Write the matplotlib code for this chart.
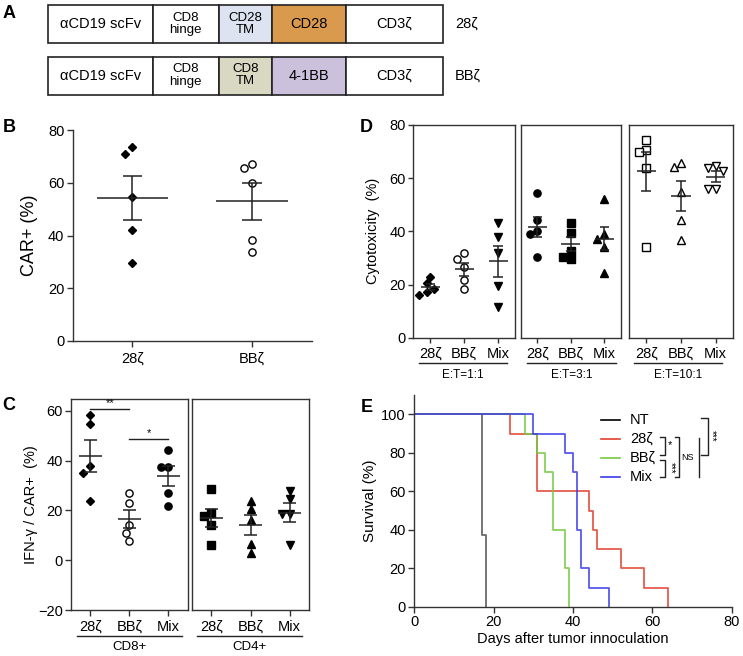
import numpy as np
import matplotlib
matplotlib.use('Agg')
import matplotlib.pyplot as plt
from matplotlib.patches import Rectangle

plt.rcParams['font.family'] = ['Liberation Sans', 'DejaVu Sans']
plt.rcParams['font.size'] = 10.5
plt.rcParams['axes.linewidth'] = 1.0
plt.rcParams['axes.edgecolor'] = '#333333'
plt.rcParams['xtick.color'] = '#333333'
plt.rcParams['ytick.color'] = '#333333'
plt.rcParams['xtick.labelcolor'] = 'black'
plt.rcParams['ytick.labelcolor'] = 'black'

W, H = 743, 656

# ---- data ----
# B: CAR+ (%)
b_groups = ['28ζ', 'BBζ']
b_28z = [73.4, 71.0, 54.5, 42.1, 29.5]
b_bbz = [67.0, 65.6, 60.0, 38.3, 33.9]

# D: cytotoxicity (%)
d_groups = ['28ζ', 'BBζ', 'Mix']
d_ratios = ['E:T=1:1', 'E:T=3:1', 'E:T=10:1']
d_1to1 = [[22.9, 20.4, 18.3, 17.3, 16.0],
          [32.0, 29.6, 26.7, 21.7, 18.3],
          [43.0, 38.0, 32.0, 19.4, 11.7]]
d_3to1 = [[54.3, 44.3, 40.1, 39.0, 30.5],
          [43.3, 39.5, 32.6, 30.5, 29.7],
          [52.0, 39.0, 37.1, 34.2, 24.2]]
d_10to1 = [[74.4, 70.6, 70.0, 63.7, 34.2],
           [65.6, 64.3, 54.9, 44.3, 36.7],
           [64.6, 64.0, 62.7, 55.8, 55.8]]

# C: IFN-g / CAR+ (%)
c_subsets = ['CD8+', 'CD4+']
c_cd8 = [[58.1, 54.8, 37.7, 35.2, 23.7],
         [26.8, 23.0, 14.0, 11.1, 7.8],
         [44.4, 37.6, 37.6, 27.0, 21.8]]
c_cd4 = [[28.6, 18.8, 17.6, 14.3, 6.0],
         [23.8, 20.5, 16.0, 6.7, 2.9],
         [27.7, 24.6, 18.7, 18.7, 5.9]]

# E: survival (%)
e_names = ['NT', '28ζ', 'BBζ', 'Mix']
e_colors = ['#505050', '#e2402f', '#74c93f', '#3b3bea']
nt_days = [0, 17, 18]
nt_surv = [100, 37.5, 0]
z28_days = [0, 24, 31, 44, 45, 46, 52, 58, 64]
z28_surv = [100, 90, 60, 50, 40, 30, 20, 10, 0]
bbz_days = [0, 28, 31, 33, 35, 38, 39]
bbz_surv = [100, 90, 80, 70, 40, 20, 0]
mix_days = [0, 30, 38, 40, 41, 42, 44, 49]
mix_surv = [100, 90, 80, 70, 40, 20, 10, 0]

marker_size = {'D': 4.0, 'o': 5.2, 's': 6.0, '^': 5.5, 'v': 5.5}


def rect(l, t, r, b):
    return [l / W, (H - b) / H, (r - l) / W, (b - t) / H]


def swarm(ax, x0, vals, diam=7.5):
    # simple beeswarm in pixel space so close points don't overlap
    pts = ax.transData.transform(np.column_stack([np.full(len(vals), x0), vals]))
    ux = ax.transData.transform([(x0 + 1, 0)])[0, 0] - ax.transData.transform([(x0, 0)])[0, 0]
    placed = []
    offs = np.zeros(len(vals))
    for i in np.argsort(-np.asarray(vals), kind='stable'):
        y = pts[i, 1]
        for k in [0, -1, 1, -2, 2, -3, 3, -4, 4]:
            dx = k * diam * 0.5
            if all((dx - px) ** 2 + (y - py) ** 2 >= diam ** 2 for px, py in placed):
                break
        placed.append((dx, y))
        offs[i] = dx / ux
    return offs


def dot_plot(ax, groups, markers, filled, mean_hw=0.28, cap_hw=0.15):
    for i, vals in enumerate(groups):
        x0 = i + 1
        offs = swarm(ax, x0, vals)
        ax.plot(x0 + offs, vals, ls='none', marker=markers[i],
                mfc='black' if filled[i] else 'white', mec='black',
                ms=marker_size[markers[i]], mew=1.0, zorder=3, clip_on=False)
        m = np.mean(vals)
        s = np.std(vals, ddof=1) / np.sqrt(len(vals))
        ax.hlines(m, x0 - mean_hw, x0 + mean_hw, color='#222222', lw=1.1, zorder=4)
        ax.hlines([m - s, m + s], x0 - cap_hw, x0 + cap_hw, color='#222222', lw=1.1, zorder=4)
        ax.vlines(x0, m - s, m + s, color='#222222', lw=1.1, zorder=4)


fig = plt.figure(figsize=(W / 100, H / 100), dpi=100)

# ---- B ----
axb = fig.add_axes(rect(72.7, 130, 311.7, 341))
axb.set_xlim(0.5, 2.5)
axb.set_ylim(0, 80)
axb.set_yticks([0, 20, 40, 60, 80])
axb.set_xticks([1, 2])
axb.set_xticklabels(b_groups)
for sp in ['top', 'right']:
    axb.spines[sp].set_visible(False)
axb.tick_params(length=4, width=1.0, pad=2)
axb.tick_params(axis='x', pad=4)
dot_plot(axb, [b_28z, b_bbz], ['D', 'o'], [True, False], mean_hw=0.3, cap_hw=0.08)
axb.set_ylabel('CAR+ (%)', fontsize=13)
axb.yaxis.set_label_coords((37.7 - 72.7) / 239, 0.5)

# ---- D ----
d_sets = [d_1to1, d_3to1, d_10to1]
d_marks = [['D', 'o', 'v'], ['o', 's', '^'], ['s', '^', 'v']]
d_fill = [[True, False, True], [True, True, True], [False, False, False]]
d_rects = [(413.3, 515), (520.7, 621), (629, 733)]
for j in range(3):
    ax = fig.add_axes(rect(d_rects[j][0], 125, d_rects[j][1], 337.7))
    ax.set_xlim(0.5, 3.5)
    ax.set_ylim(0, 80)
    ax.set_xticks([1, 2, 3])
    ax.set_xticklabels(d_groups)
    ax.tick_params(length=3.5, width=1.0, pad=2)
    ax.tick_params(axis='x', pad=3)
    if j == 0:
        ax.set_yticks([0, 20, 40, 60, 80])
        ax.set_ylabel('Cytotoxicity  (%)', fontsize=10.5)
        ax.yaxis.set_label_coords((380 - 413.3) / 101.7, 0.5)
    else:
        ax.set_yticks([])
    dot_plot(ax, d_sets[j], d_marks[j], d_fill[j], mean_hw=0.28, cap_hw=0.14)

# ---- C ----
c_sets = [c_cd8, c_cd4]
c_marks = [['D', 'o', 'o'], ['s', '^', 'v']]
c_fill = [[True, False, True], [True, True, True]]
c_rects = [(71, 187.7), (191.7, 309.3)]
c_axes = []
for j in range(2):
    ax = fig.add_axes(rect(c_rects[j][0], 399.3, c_rects[j][1], 610))
    ax.set_xlim(0.5, 3.5)
    ax.set_ylim(-20, 64.6)
    ax.set_xticks([1, 2, 3])
    ax.set_xticklabels(d_groups)
    ax.tick_params(length=4, width=1.0, pad=2)
    ax.tick_params(axis='x', pad=3)
    if j == 0:
        ax.set_yticks([-20, 0, 20, 40, 60])
        ax.set_ylabel('IFN-γ / CAR+  (%)', fontsize=10.5)
        ax.yaxis.set_label_coords((37.7 - 71) / 116.7, 0.5)
    else:
        ax.set_yticks([])
    dot_plot(ax, c_sets[j], c_marks[j], c_fill[j], mean_hw=0.3, cap_hw=0.17)
    c_axes.append(ax)

# significance bars in C
axc = c_axes[0]
axc.plot([1, 2], [60.7, 60.7], color='#222222', lw=1.0)
axc.text(1.5, 61.2, '**', ha='center', va='bottom', fontsize=8)
axc.plot([2, 3], [48.6, 48.6], color='#222222', lw=1.0)
axc.text(2.5, 49.1, '*', ha='center', va='bottom', fontsize=8)

# ---- E ----
axe = fig.add_axes(rect(414.3, 395, 731.7, 607))
e_days = [nt_days, z28_days, bbz_days, mix_days]
e_surv = [nt_surv, z28_surv, bbz_surv, mix_surv]
for k in range(4):
    axe.step(e_days[k], e_surv[k], where='post', color=e_colors[k], lw=1.3, alpha=0.85)
axe.set_xlim(0, 80)
axe.set_ylim(0, 110)
axe.set_xticks([0, 20, 40, 60, 80])
axe.set_yticks([0, 20, 40, 60, 80, 100])
for sp in ['top', 'right']:
    axe.spines[sp].set_visible(False)
axe.tick_params(length=4, width=1.0, pad=2)
axe.set_xlabel('Days after tumor innoculation', labelpad=2)
axe.set_ylabel('Survival (%)', fontsize=11)
axe.yaxis.set_label_coords((377 - 414.3) / 317.4, 0.5)

# ---- overlay for diagram, labels and brackets (pixel coords) ----
ov = fig.add_axes([0, 0, 1, 1])
ov.set_xlim(0, W)
ov.set_ylim(H, 0)
ov.axis('off')
ov.set_zorder(10)

# panel A constructs
a_rows = [
    ['αCD19 scFv', 'CD8\nhinge', 'CD28\nTM', 'CD28', 'CD3ζ'],
    ['αCD19 scFv', 'CD8\nhinge', 'CD8\nTM', '4-1BB', 'CD3ζ'],
]
a_names = ['28ζ', 'BBζ']
a_colors = [['white', 'white', '#dde3f0', '#da9a4e', 'white'],
            ['white', 'white', '#d9d8c2', '#ccc1dd', 'white']]
a_edges = [48.3, 152.7, 219, 272.3, 345.7, 443]
a_tops = [5, 56.5]
for r in range(2):
    top = a_tops[r]
    for s in range(5):
        x0, x1 = a_edges[s], a_edges[s + 1]
        ov.add_patch(Rectangle((x0, top), x1 - x0, 38, facecolor=a_colors[r][s],
                               edgecolor='#222222', lw=1.2))
        two_line = '\n' in a_rows[r][s]
        ov.text((x0 + x1) / 2, top + 19, a_rows[r][s], ha='center', va='center',
                fontsize=9.5 if two_line else 10.5, linespacing=1.0)
    ov.text(455, top + 19, a_names[r], ha='left', va='center', fontsize=10.5)

# panel letters
for lab, (x, y) in zip('ABCDE', [(9, 13), (9, 128), (9, 405), (366, 128), (367, 407)]):
    ov.text(x, y, lab, ha='center', va='center', fontsize=13, fontweight='bold')

# D ratio groups
for (x0, x1), lab in zip([(419, 507), (527, 616), (634, 722)], d_ratios):
    ov.plot([x0, x1], [363.3, 363.3], color='#222222', lw=1.0)
    ov.text((x0 + x1) / 2, 375, lab, ha='center', va='center', fontsize=8.5)

# C subset groups
for (x0, x1), lab in zip([(77, 182), (197, 302)], c_subsets):
    ov.plot([x0, x1], [636, 636], color='#222222', lw=1.0)
    ov.text((x0 + x1) / 2, 647, lab, ha='center', va='center', fontsize=9.5)

# E legend
for k, y in enumerate([420, 438.5, 457.5, 477]):
    ov.plot([601, 620], [y, y], color=e_colors[k] if k else 'black', lw=1.2)
    ov.text(630, y, e_names[k], ha='left', va='center', fontsize=10.5)

# E significance brackets
bk = dict(color='#222222', lw=1.0)
ov.plot([660, 665, 665, 660], [437, 437, 455, 455], **bk)
ov.text(668, 445, '*', ha='left', va='center', fontsize=8)
ov.plot([660, 665, 665, 660], [460, 460, 477, 477], **bk)
ov.text(671, 468, '***', ha='center', va='center', fontsize=7, rotation=270)
ov.plot([675, 679, 679, 675], [437, 437, 477, 477], **bk)
ov.text(681, 458, 'NS', ha='left', va='center', fontsize=6.5)
ov.plot([699, 699], [438, 477], **bk)
ov.plot([701, 707.5, 707.5, 701], [418, 418, 455, 455], **bk)
ov.text(712, 436, '***', ha='center', va='center', fontsize=7, rotation=270)

fig.savefig('out.png', dpi=100)
